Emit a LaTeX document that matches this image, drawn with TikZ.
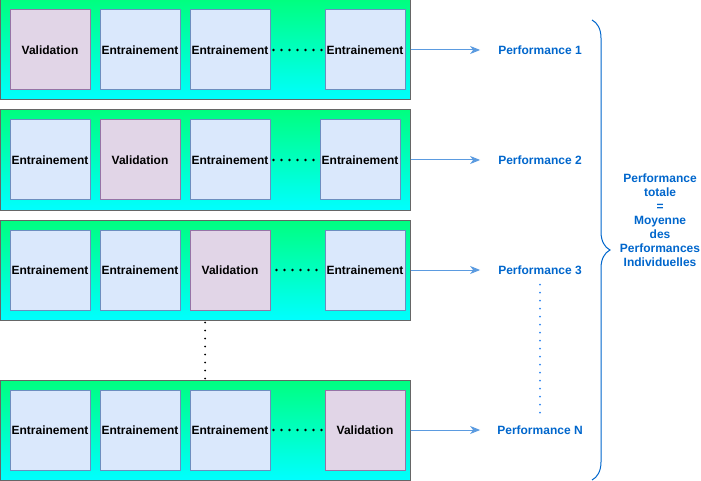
\documentclass[tikz,border=0pt]{standalone}
\usepackage{fontspec}
\setmainfont{Liberation Sans}
\usetikzlibrary{arrows,arrows.meta,positioning,decorations.pathreplacing}
\definecolor{foldtop}{HTML}{00FF80}
\definecolor{foldbot}{HTML}{00FFFF}
\definecolor{trainfill}{HTML}{DAE8FC}
\definecolor{trainline}{HTML}{6C8EBF}
\definecolor{valfill}{HTML}{E1D5E7}
\definecolor{valline}{HTML}{9673A6}
\definecolor{perfblue}{HTML}{0066CC}
\definecolor{arrowblue}{HTML}{5B9BE0}
\definecolor{dotblue}{HTML}{2E86F0}
\begin{document}
\begin{tikzpicture}[x=1pt, y=-1pt, >={Stealth[length=10pt,width=8pt,inset=3pt]},
        fold/.style={rectangle,draw=black!60,line width=1pt,top color=foldtop,bottom color=foldbot,
          minimum width=410pt,minimum height=100pt,inner sep=0pt},
        train/.style={rectangle,draw=trainline,fill=trainfill,line width=1pt,minimum size=80pt,
          inner sep=0pt,font=\fontsize{12}{14}\selectfont\bfseries},
        valid/.style={rectangle,draw=valline,fill=valfill,line width=1pt,minimum size=80pt,
          inner sep=0pt,font=\fontsize{12}{14}\selectfont\bfseries},
        perf/.style={text=perfblue,font=\fontsize{12}{14}\selectfont\bfseries,inner sep=0pt},
        skip/.style={line width=2.6pt,dash pattern=on 0pt off 8pt,line cap=round},
        skipblue/.style={line width=2pt,dash pattern=on 0pt off 8pt,line cap=round,draw=dotblue}]
        \useasboundingbox (0,0) rectangle (701,481);
        % folds
        \node[fold] at (205,50) (fold1) {};
        \node[fold] at (205,160) (fold2) {};
        \node[fold] at (205,270) (fold3) {};
        \node[fold] at (205,430) (fold4) {};
        % fold 1
        \node[valid] at (50,50) (f1b1) {Validation};
        \node[train] at (140,50) (f1b2) {Entrainement};
        \node[train] at (230,50) (f1b3) {Entrainement};
        \node[train] at (365,50) (f1b4) {Entrainement};
        % fold 2
        \node[train] at (50,160) (f2b1) {Entrainement};
        \node[valid] at (140,160) (f2b2) {Validation};
        \node[train] at (230,160) (f2b3) {Entrainement};
        \node[train] at (360,160) (f2b4) {Entrainement};
        % fold 3
        \node[train] at (50,270) (f3b1) {Entrainement};
        \node[train] at (140,270) (f3b2) {Entrainement};
        \node[valid] at (230,270) (f3b3) {Validation};
        \node[train] at (365,270) (f3b4) {Entrainement};
        % fold N
        \node[train] at (50,430) (f4b1) {Entrainement};
        \node[train] at (140,430) (f4b2) {Entrainement};
        \node[train] at (230,430) (f4b3) {Entrainement};
        \node[valid] at (365,430) (f4b4) {Validation};
        % scores
        \node[perf] at (540,50) (perf1) {Performance 1};
        \node[perf] at (540,160) (perf2) {Performance 2};
        \node[perf] at (540,270) (perf3) {Performance 3};
        \node[perf] at (540,430) (perfN) {Performance N};
        \node[perf,align=center] at (660,220) (total) {Performance\\totale\\=\\Moyenne\\des\\Performances\\Individuelles};
        \coordinate (bracetop) at (592,20);
        \coordinate (bracebot) at (592,480);
        \draw[skip] ([xshift=3pt]f1b3.east) -- ([xshift=-3pt]f1b4.west);
        \draw[skip] ([xshift=3pt]f2b3.east) -- ([xshift=-1pt]f2b4.west);
        \draw[skip] ([xshift=6pt]f3b3.east) -- ([xshift=-3pt]f3b4.west);
        \draw[skip] ([xshift=3pt]f4b3.east) -- ([xshift=-3pt]f4b4.west);
        \draw[skip,line width=2pt] ([yshift=-2pt]fold3.south) -- (fold4.north);
        \draw[->,arrowblue,line width=1pt] (fold1) -- ([xshift=-18pt]perf1.west);
        \draw[->,arrowblue,line width=1pt] (fold2) -- ([xshift=-18pt]perf2.west);
        \draw[->,arrowblue,line width=1pt] (fold3) -- ([xshift=-18pt]perf3.west);
        \draw[->,arrowblue,line width=1pt] (fold4) -- ([xshift=-17pt]perfN.west);
        \draw[skipblue] ([yshift=-10pt]perf3.south) -- ([yshift=10pt]perfN.north);
        \draw[perfblue,line width=1pt,decorate,decoration={brace,amplitude=18pt}] (bracetop) -- (bracebot);
      \end{tikzpicture}
\end{document}
